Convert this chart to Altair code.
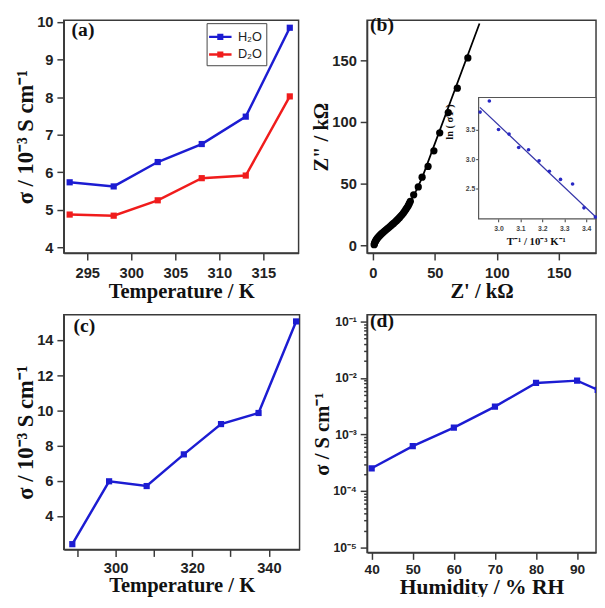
import altair as alt
import pandas as pd

# ---------------- data ----------------
# (a) conductivity vs temperature, H2O / D2O
temp_a = [293, 298, 303, 308, 313, 318]
sigma_h2o = [5.73, 5.62, 6.27, 6.75, 7.48, 9.85]
sigma_d2o = [4.87, 4.84, 5.25, 5.84, 5.91, 8.02]
series_a = ["H₂O", "D₂O"]

# (b) Nyquist plot
z_re = [1.0, 1.3, 1.7, 2.2, 2.8, 3.5, 4.3, 5.2, 6.2, 7.2, 8.3, 9.4, 10.6, 11.8,
        13.0, 14.2, 15.4, 16.6, 17.8, 19.0, 20.2, 21.4, 22.5, 23.6, 24.7, 25.7,
        26.7, 27.7, 28.6, 29.4, 30.2, 32.9, 36.6, 39.7, 44.5, 49.2, 53.9, 60.8,
        68.1, 76.6]
z_im = [0.5, 1.5, 2.6, 3.6, 4.6, 5.6, 6.6, 7.6, 8.6, 9.6, 10.6, 11.6, 12.6, 13.6,
        14.6, 15.6, 16.7, 17.8, 18.9, 20.0, 21.2, 22.4, 23.7, 25.0, 26.4, 27.8,
        29.3, 30.8, 32.4, 34.0, 35.7, 41.0, 47.4, 55.3, 64.0, 76.7, 91.3, 107.7,
        127.5, 152.0]
fit_re = [1.0, 2.5, 5.0, 9.0, 14.0, 20.0, 25.0, 30.0, 35.0, 40.0, 86.0]
fit_im = [0.5, 4.0, 7.6, 11.2, 15.6, 21.2, 26.5, 35.0, 44.5, 55.5, 180.0]

# (b) inset: Arrhenius plot
inv_t = [2.916, 2.958, 3.000, 3.048, 3.092, 3.137, 3.185, 3.232, 3.283, 3.338, 3.390, 3.442]
ln_sigma_t = [3.81, 4.00, 3.51, 3.43, 3.20, 3.16, 2.97, 2.79, 2.65, 2.57, 2.16, 2.00]
inset_fit_x = [2.915, 3.47]
inset_fit_y = [3.89, 1.91]

# (c) conductivity vs temperature
temp_c = [288.7, 298.3, 308.1, 317.8, 327.5, 337.3, 347.1]
sigma_c = [2.40, 5.97, 5.70, 7.50, 9.22, 9.85, 15.05]

# (d) conductivity vs humidity
humidity = [40, 50, 60, 70, 80, 90, 95]
sigma_d = [2.53e-4, 6.24e-4, 1.33e-3, 3.12e-3, 8.2e-3, 9.0e-3, 6.2e-3]

panel_labels = ["(a)", "(b)", "(c)", "(d)"]

# ---------------- styling ----------------
BLUE = "#1c1cd2"
RED = "#f01c1c"
FRAME = "#3a3a3a"
SERIF = "Liberation Serif"
SANS = "Liberation Sans"
LEG_PATH = "M-1.35,0L1.35,0M-0.22,-0.22L0.22,-0.22L0.22,0.22L-0.22,0.22Z"


def panel_label(text, x, y):
    return alt.Chart(pd.DataFrame({"t": [text]})).mark_text(
        font=SERIF, fontWeight="bold", fontSize=20, align="left",
        baseline="alphabetic", color="#111"
    ).encode(x=alt.value(x), y=alt.value(y), text="t:N")


# ---------------- panel (a) ----------------
df_a = pd.DataFrame({
    "T": temp_a + temp_a,
    "s": sigma_h2o + sigma_d2o,
    "series": [series_a[0]] * len(temp_a) + [series_a[1]] * len(temp_a),
})
xa = alt.X("T:Q", scale=alt.Scale(domain=[292.33, 319.0], nice=False, zero=False),
           axis=alt.Axis(values=[295, 300, 305, 310, 315], title="Temperature / K"))
ya = alt.Y("s:Q", scale=alt.Scale(domain=[3.843, 10.05], nice=False, zero=False),
           axis=alt.Axis(values=list(range(4, 11)), title="σ / 10⁻³ S cm⁻¹",
                         titlePadding=-1, titleFontSize=23))
cscale = alt.Scale(domain=series_a, range=[BLUE, RED])
leg = alt.Legend(title=None, orient="none", legendX=146, legendY=3,
                 symbolType=LEG_PATH, symbolSize=289, symbolStrokeWidth=2.5,
                 labelFont=SANS, labelFontSize=13, labelFontWeight="normal",
                 labelColor="#222", strokeColor="#444", fillColor="white",
                 padding=4, rowPadding=1, labelOffset=8)
line_a = alt.Chart(df_a).mark_line(strokeWidth=2.5).encode(
    xa, ya, color=alt.Color("series:N", scale=cscale, legend=leg))
pts_a = alt.Chart(df_a).mark_square(size=40, opacity=1).encode(
    xa, ya, color=alt.Color("series:N", scale=cscale, legend=leg))
chart_a = alt.layer(line_a, pts_a, panel_label(panel_labels[0], 8, 16.5)).properties(
    width=240, height=238)

# ---------------- panel (b) ----------------
df_b = pd.DataFrame({"zr": z_re, "zi": z_im})
df_bf = pd.DataFrame({"zr": fit_re, "zi": fit_im})
xb = alt.X("zr:Q", scale=alt.Scale(domain=[-4.7, 180.0], nice=False, zero=False),
           axis=alt.Axis(values=[0, 50, 100, 150], title="Z' / kΩ"))
yb = alt.Y("zi:Q", scale=alt.Scale(domain=[-6.3, 182.6], nice=False, zero=False),
           axis=alt.Axis(values=[0, 50, 100, 150], title='Z" / kΩ', titlePadding=0))
fit_b = alt.Chart(df_bf).mark_line(color="black", strokeWidth=1.8, clip=True).encode(xb, yb)
pts_b = alt.Chart(df_b).mark_circle(size=55, color="black", opacity=1).encode(xb, yb)
main_b = alt.layer(fit_b, pts_b)

df_i = pd.DataFrame({"it": inv_t, "ls": ln_sigma_t})
df_if = pd.DataFrame({"it": inset_fit_x, "ls": inset_fit_y})
xi = alt.X("it:Q", scale=alt.Scale(domain=[2.400, 3.445], nice=False, zero=False),
           axis=alt.Axis(orient="bottom", offset=-35, values=[3.0, 3.1, 3.2, 3.3, 3.4],
                         format=".1f", domain=False, tickSize=3, tickWidth=1,
                         labelFontSize=7, labelPadding=3, labelColor="#444",
                         title="T⁻¹ / 10⁻³ K⁻¹", titleFontSize=11,
                         titleX=172.5, titleY=17, titleBaseline="top"))
yi = alt.Y("ls:Q", scale=alt.Scale(domain=[1.380, 5.392], nice=False, zero=False),
           axis=alt.Axis(orient="left", offset=-114, values=[2.5, 3.0, 3.5],
                         format=".1f", domain=False, tickSize=3, tickWidth=1,
                         labelFontSize=7, labelPadding=1, labelColor="#444",
                         title="ln ( σT )", titleFontSize=10.5,
                         titleX=-25, titleY=103.5, titleAngle=270, titleBaseline="bottom"))
inset_box = alt.Chart(pd.DataFrame({"k": [0]})).mark_rect(
    fill="white", stroke="#555", strokeWidth=1.2).encode(
    x=alt.value(114), x2=alt.value(234), y=alt.value(79), y2=alt.value(203))
inset_line = alt.Chart(df_if).mark_line(color="#3535a8", strokeWidth=1.3, clip=True).encode(xi, yi)
inset_pts = alt.Chart(df_i).mark_circle(size=14, color="#2828c4", opacity=1).encode(xi, yi)
inset = alt.layer(inset_box, inset_line, inset_pts)

chart_b = alt.layer(main_b, inset, panel_label(panel_labels[1], 3, 11)).resolve_scale(
    x="independent", y="independent").properties(width=234, height=238)

# ---------------- panel (c) ----------------
df_c = pd.DataFrame({"T": temp_c, "s": sigma_c})
xc = alt.X("T:Q", scale=alt.Scale(domain=[286.47, 348.0], nice=False, zero=False),
           axis=alt.Axis(values=[290, 300, 310, 320, 330, 340], title="Temperature / K",
                         labelExpr="datum.value % 20 == 0 ? datum.label : ''",
                         labelPadding=4, titlePadding=0))
yc = alt.Y("s:Q", scale=alt.Scale(domain=[2.094, 15.43], nice=False, zero=False),
           axis=alt.Axis(values=[4, 6, 8, 10, 12, 14], title="σ / 10⁻³ S cm⁻¹",
                         titlePadding=-1, titleFontSize=23))
line_c = alt.Chart(df_c).mark_line(color=BLUE, strokeWidth=2.5).encode(xc, yc)
pts_c = alt.Chart(df_c).mark_square(color=BLUE, size=40, opacity=1).encode(xc, yc)
chart_c = alt.layer(line_c, pts_c, panel_label(panel_labels[2], 10, 18)).properties(
    width=241, height=240)

# ---------------- panel (d) ----------------
df_d = pd.DataFrame({"h": humidity, "s": sigma_d})
log_vals = [m * 10.0 ** e for e in range(-5, -1) for m in range(1, 10)] + [0.1]
is_decade = "abs(log(datum.value)/LN10 - round(log(datum.value)/LN10)) < 0.01"
exp_expr = "round(log(datum.value)/LN10)"
sup = ("(" + exp_expr + " == -1 ? '⁻¹' : " + exp_expr + " == -2 ? '⁻²' : "
       + exp_expr + " == -3 ? '⁻³' : " + exp_expr + " == -4 ? '⁻⁴' : '⁻⁵')")
xd = alt.X("h:Q", scale=alt.Scale(domain=[38.88, 94.6], nice=False, zero=False),
           axis=alt.Axis(values=[40, 50, 60, 70, 80, 90], title="Humidity / % RH",
                         labelFontSize=14, titleFontSize=22, labelPadding=4,
                         titlePadding=0))
yd = alt.Y("s:Q", scale=alt.Scale(type="log", domain=[8.19e-6, 0.132], nice=False),
           axis=alt.Axis(values=log_vals, title="σ / S cm⁻¹", titlePadding=0,
                         labelFontSize=12.5,
                         labelExpr=is_decade + " ? '10' + " + sup + " : ''",
                         tickSize={"condition": {"test": is_decade, "value": 7}, "value": 3.5}))
line_d = alt.Chart(df_d).mark_line(color=BLUE, strokeWidth=2.5, clip=True).encode(xd, yd)
pts_d = alt.Chart(df_d).mark_square(color=BLUE, size=40, opacity=1, clip=True).encode(xd, yd)
chart_d = alt.layer(line_d, pts_d, panel_label(panel_labels[3], 3, 13)).properties(
    width=234, height=243)

chart = alt.concat(chart_a, chart_b, chart_c, chart_d, columns=2,
                   spacing={"row": 63, "column": 69}, bounds="flush").resolve_scale(
    color="independent"
).resolve_legend(color="independent").properties(
    padding={"left": 6, "top": 0, "right": -1, "bottom": -8},
    background="white"
).configure_axis(
    labelFont=SANS, labelFontWeight="bold", labelFontSize=15, labelColor="#222",
    titleFont=SERIF, titleFontWeight="bold", titleFontSize=21, titleColor="#111",
    domainColor=FRAME, domainWidth=1.5, tickColor=FRAME, tickWidth=1.5, tickSize=7,
    grid=False
).configure_axisX(labelPadding=6, titlePadding=0
).configure_axisY(labelPadding=4
).configure_view(stroke=FRAME, strokeWidth=1.5)

chart.save("out.html", embed_options={"renderer": "svg", "actions": False})
